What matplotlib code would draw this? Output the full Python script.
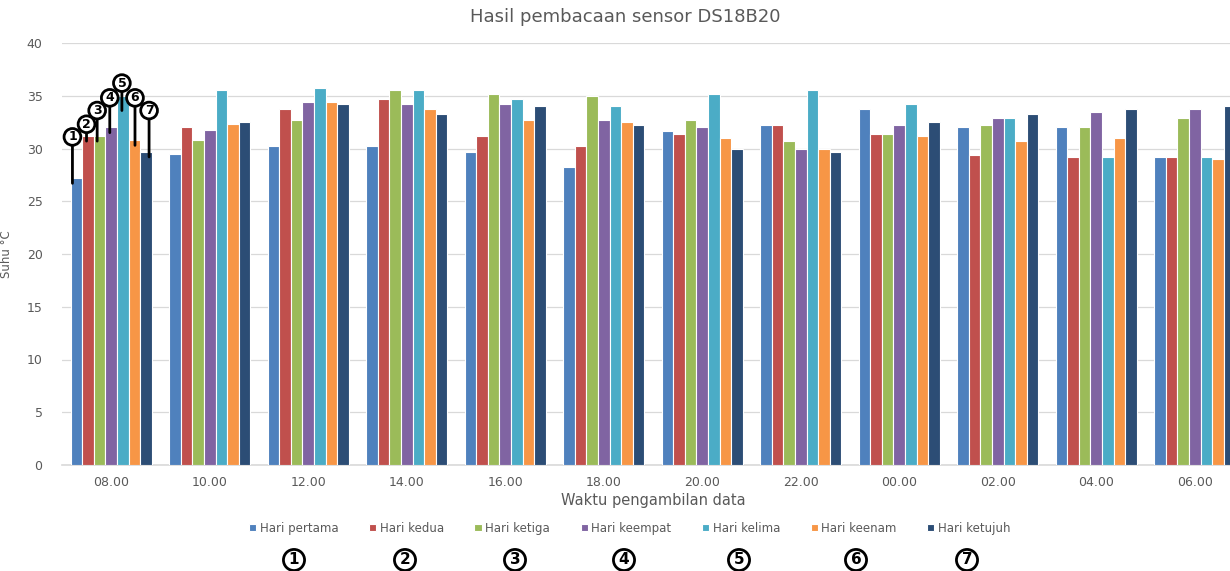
import matplotlib
matplotlib.use('Agg')
import matplotlib.pyplot as plt
import numpy as np

# data
waktu = ['08.00', '10.00', '12.00', '14.00', '16.00', '18.00',
         '20.00', '22.00', '00.00', '02.00', '04.00', '06.00']
hari = ['Hari pertama', 'Hari kedua', 'Hari ketiga', 'Hari keempat',
        'Hari kelima', 'Hari keenam', 'Hari ketujuh']

hari_pertama = [27.2, 29.5, 30.2, 30.2, 29.7, 28.2, 31.7, 32.2, 33.7, 32.0, 32.0, 29.2]
hari_kedua = [31.2, 32.0, 33.7, 34.7, 31.2, 30.2, 31.4, 32.2, 31.4, 29.4, 29.2, 29.2]
hari_ketiga = [31.2, 30.8, 32.7, 35.5, 35.2, 35.0, 32.7, 30.7, 31.4, 32.2, 32.0, 32.9]
hari_keempat = [32.0, 31.8, 34.4, 34.2, 34.2, 32.7, 32.0, 30.0, 32.2, 32.9, 33.5, 33.7]
hari_kelima = [35.0, 35.5, 35.7, 35.5, 34.7, 34.0, 35.2, 35.5, 34.2, 32.9, 29.2, 29.2]
hari_keenam = [30.8, 32.3, 34.4, 33.7, 32.7, 32.5, 31.0, 30.0, 31.2, 30.7, 31.0, 29.0]
hari_ketujuh = [29.7, 32.5, 34.2, 33.3, 34.0, 32.2, 30.0, 29.7, 32.5, 33.3, 33.7, 34.0]

series = [hari_pertama, hari_kedua, hari_ketiga, hari_keempat,
          hari_kelima, hari_keenam, hari_ketujuh]
colors = ['#4F81BD', '#C0504D', '#9BBB59', '#8064A2', '#4BACC6', '#F79646', '#2C4D75']

plt.rcParams['font.family'] = ['Liberation Sans Narrow', 'DejaVu Sans']
grey = '#595959'

fig = plt.figure(figsize=(12.3, 5.71), dpi=100)
# the reference is cropped on the right, so the axes run past the figure edge
ax = fig.add_axes([62 / 1230, 106 / 571, 1182 / 1230, 422 / 571])

x = np.arange(len(waktu))
w = 0.118
for i, (vals, c) in enumerate(zip(series, colors)):
    ax.bar(x + (i - 3) * w, vals, width=w, color=c, edgecolor='white',
           linewidth=0.8, label=hari[i], zorder=3)

ax.set_xlim(-0.5, len(waktu) - 0.5)
ax.set_ylim(0, 40)
ax.set_yticks(np.arange(0, 41, 5))
ax.set_xticks(x)
ax.set_xticklabels(waktu)
ax.tick_params(axis='both', length=0, colors=grey, labelsize=9)
ax.tick_params(axis='y', pad=14)
ax.tick_params(axis='x', pad=8)
ax.grid(axis='y', color='#d9d9d9', linewidth=0.9, zorder=0)
for s in ['top', 'right', 'left']:
    ax.spines[s].set_visible(False)
ax.spines['bottom'].set_color('#d9d9d9')
ax.spines['bottom'].set_linewidth(1.2)

ax.set_xlabel('Waktu pengambilan data', color=grey, fontsize=10.5, labelpad=3)
ax.set_ylabel('Suhu \u00b0C', color=grey, fontsize=8.5, labelpad=10)
fig.text(0.508, 0.97, 'Hasil pembacaan sensor DS18B20', ha='center', va='center',
         fontsize=13, color=grey)

# numbered call-outs on the first group
label_y = [31.1, 32.3, 33.6, 34.8, 36.2, 34.8, 33.6]
shift = [-0.04, -0.015, -0.025, -0.015, -0.01, 0.005, 0.03]
for i in range(7):
    bx = (i - 3) * w + shift[i]
    top = series[i][0] - (1.4 if i == 4 else 0.5)
    ax.annotate(str(i + 1), xy=(bx, top), xytext=(bx, label_y[i]),
                ha='center', va='center', fontsize=9, fontweight='bold',
                arrowprops=dict(arrowstyle='-', color='black', lw=2,
                                shrinkA=0, shrinkB=0),
                bbox=dict(boxstyle='circle,pad=0.15', fc='white', ec='black', lw=2),
                zorder=6)

fig.legend(loc='center', bbox_to_anchor=(0.512, 0.075), ncol=7, frameon=False,
           fontsize=8.5, handlelength=0.6, handleheight=0.6, handletextpad=0.3,
           columnspacing=2.6, labelcolor=grey)

# circled numbers under the legend
num_x = [294, 405, 515, 624, 739, 856, 967]
for i, px in enumerate(num_x):
    fig.text(px / 1230, 11 / 571, str(i + 1), ha='center', va='center',
             fontsize=11, fontweight='bold',
             bbox=dict(boxstyle='circle,pad=0.2', fc='white', ec='black', lw=2))

fig.savefig('out.png', dpi=100)
